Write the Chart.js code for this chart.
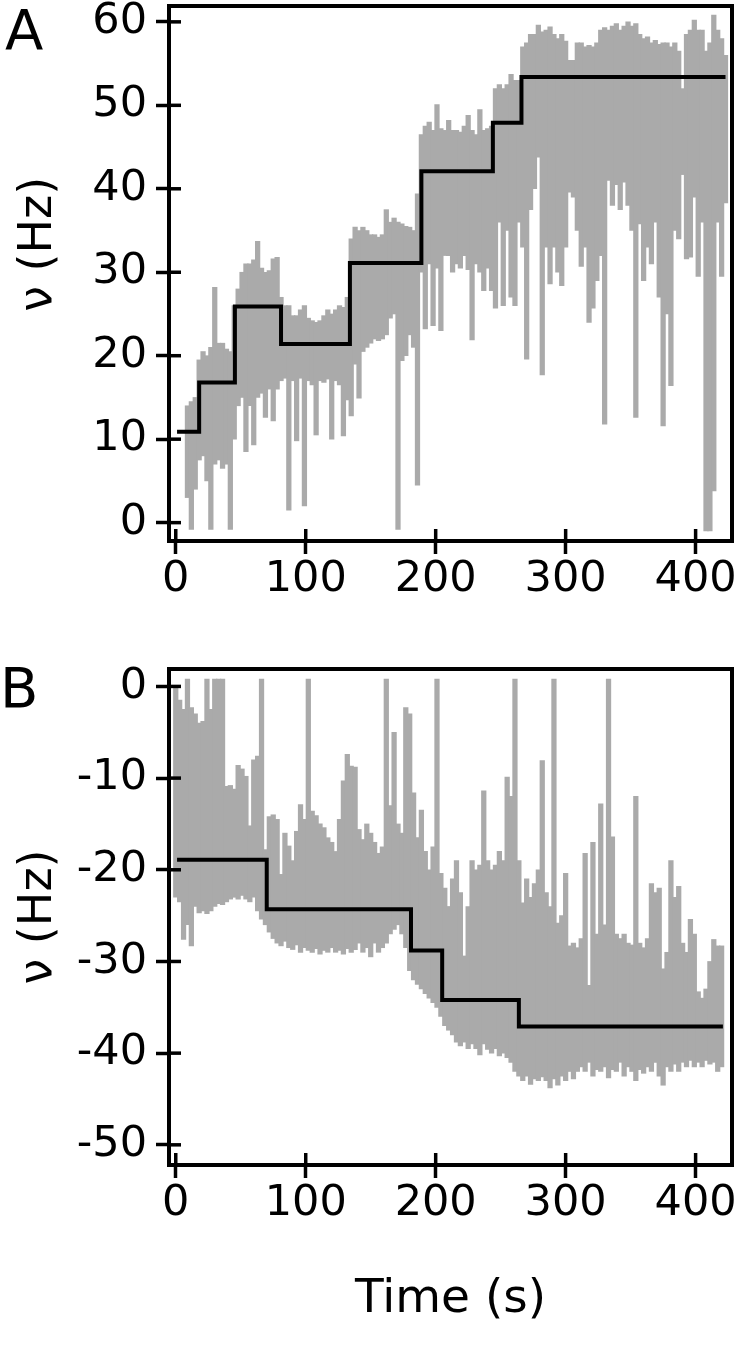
<!DOCTYPE html>
<html><head><meta charset="utf-8">
<script src="https://cdn.jsdelivr.net/npm/chart.js@4.4.1/dist/chart.umd.min.js"></script>
<style>
html,body{margin:0;padding:0;background:#fff;}
#wrap{position:relative;width:739px;height:1364px;overflow:hidden;}
canvas{position:absolute;left:0;}
#ca{top:0;} #cb{top:610px;}
.lab{position:absolute;font-family:'DejaVu Sans',sans-serif;font-size:56px;line-height:1;color:#000;}
</style></head><body>
<div id="wrap">
<canvas id="ca" width="739" height="610"></canvas>
<canvas id="cb" width="739" height="754"></canvas>
<div class="lab" style="left:5px;top:2px;">A</div>
<div class="lab" style="left:0px;top:660px;">B</div>
</div>
<script>
// ---------- Panel A data ----------
const timeA = [
 9,12,15,18,21,24,27,30,33,36,
 39,42,45,48,51,54,57,60,63,66,
 69,72,75,78,81,84,87,90,93,96,
 99,102,105,108,111,114,117,120,123,126,
 129,132,135,138,141,144,147,150,153,156,
 159,162,165,168,171,174,177,180,183,186,
 189,192,195,198,201,204,207,210,213,216,
 219,222,225,228,231,234,237,240,243,246,
 249,252,255,258,261,264,267,270,273,276,
 279,282,285,288,291,294,297,300,303,306,
 309,312,315,318,321,324,327,330,333,336,
 339,342,345,348,351,354,357,360,363,366,
 369,372,375,378,381,384,387,390,393,396,
 399,402,405,408,411,414,417,420,423];
const hiA = [
 14.0,14.5,15.0,19.5,20.5,20.0,21.0,28.2,21.5,21.5,
 20.8,20.5,26.0,28.0,30.0,31.0,31.0,31.5,33.7,30.5,
 30.0,30.2,31.6,31.8,27.0,26.0,26.0,24.8,24.8,25.5,
 26.0,24.5,24.2,24.0,24.2,24.8,25.5,25.0,25.5,26.0,
 25.8,27.0,34.0,35.4,35.0,35.4,35.0,34.5,34.5,34.2,
 34.5,37.5,36.0,36.5,36.0,35.8,35.5,35.4,35.0,39.4,
 46.5,47.5,48.0,47.0,50.1,47.2,47.0,48.2,47.0,47.0,
 46.8,47.5,48.8,47.0,46.5,49.5,47.0,47.2,47.5,52.0,
 52.5,52.0,52.5,53.7,53.0,53.0,57.0,57.5,58.5,58.5,
 59.6,58.8,59.0,59.4,58.5,58.0,58.5,57.7,55.4,55.4,
 57.5,57.5,57.0,57.2,57.0,57.5,59.0,59.3,59.0,59.5,
 59.8,59.0,59.5,60.0,59.5,59.8,58.5,58.0,58.2,57.5,
 57.8,57.3,57.5,57.5,57.0,57.5,56.5,52.0,58.5,59.0,
 60.2,59.0,59.0,56.5,57.5,60.8,59.0,58.0,56.0];
const loA = [
 3.0,-0.8,4.0,7.5,8.0,5.0,-0.8,7.0,7.5,6.5,
 7.0,-0.8,10.0,14.0,15.0,8.5,14.0,9.3,15.0,15.5,
 12.6,16.0,12.2,16.0,17.0,17.3,1.5,17.0,9.8,17.3,
 2.0,17.0,16.5,10.5,17.0,16.8,17.2,10.0,17.0,16.5,
 10.4,14.7,12.8,19.0,14.9,20.5,21.0,21.5,22.0,21.8,
 22.0,22.5,24.5,25.0,-0.8,19.4,20.0,22.5,21.0,4.5,
 30.0,23.2,31.0,23.6,30.5,23.0,32.0,32.0,30.0,31.0,
 30.5,32.0,30.3,21.9,31.0,30.0,27.8,30.5,27.8,25.7,
 36.0,26.0,35.0,27.0,26.0,36.0,33.0,19.6,37.5,40.0,
 43.8,17.7,33.0,28.6,33.0,30.0,28.4,33.0,39.6,39.0,
 35.0,30.7,33.0,24.0,25.7,29.0,32.0,11.8,41.0,38.0,
 40.5,37.5,40.8,38.0,35.0,12.6,35.8,29.0,33.0,31.0,
 36.0,27.0,11.6,25.0,16.4,35.0,34.0,41.7,31.6,31.8,
 39.0,29.5,36.0,-1.0,-1.0,3.8,36.0,29.5,38.3];
const stepTimeA = [1, 18, 45.5, 81, 134, 189, 244, 266, 423];
const stepValA  = [10.9, 16.8, 25.9, 21.4, 31.1, 42.1, 47.9, 53.4, 53.4];
const yTicksA = [0, 10, 20, 30, 40, 50, 60];

// ---------- Panel B data ----------
const timeB = [
 0,3,6,9,12,15,18,21,24,27,
 30,33,36,39,42,45,48,51,54,57,
 60,63,66,69,72,75,78,81,84,87,
 90,93,96,99,102,105,108,111,114,117,
 120,123,126,129,132,135,138,141,144,147,
 150,153,156,159,162,165,168,171,174,177,
 180,183,186,189,192,195,198,201,204,207,
 210,213,216,219,222,225,228,231,234,237,
 240,243,246,249,252,255,258,261,264,267,
 270,273,276,279,282,285,288,291,294,297,
 300,303,306,309,312,315,318,321,324,327,
 330,333,336,339,342,345,348,351,354,357,
 360,363,366,369,372,375,378,381,384,387,
 390,393,396,399,402,405,408,411,414,417,
 420];
const hiB = [
 -0.2,-1.5,-2.5,0.8,-2.3,-3.0,-4.0,-3.8,0.8,-2.5,
 0.8,0.8,0.8,-10.9,-10.8,-11.2,-8.6,-9.0,-9.8,-15.2,
 -8.0,-7.6,0.8,-17.8,-14.2,-14.0,-14.5,-20.5,-16.0,-17.4,
 -19.0,-15.8,-12.9,-14.5,0.8,-13.6,-14.1,-15.0,-15.4,-16.5,
 -17.0,-18.0,-14.5,-10.3,-7.4,-8.7,-8.8,-15.6,-16.7,-15.0,
 -16.0,-17.0,-18.2,-17.5,0.8,-13.0,-5.0,-15.0,-16.0,-2.3,
 -3.0,-11.6,-16.5,-13.5,-18.0,-20.0,-17.5,0.8,-20.4,-22.0,
 -24.0,-21.0,-19.0,-22.5,-29.4,-24.0,-19.0,-20.0,-19.5,-11.4,
 -19.0,-20.0,-19.5,-18.0,-19.0,-9.9,-12.0,0.8,-19.0,-23.6,
 -21.0,-23.0,-21.5,-20.0,-8.1,-22.5,-24.0,0.8,-25.8,-25.0,
 -20.4,-28.3,-28.0,-28.5,-27.5,-18.2,-32.6,-17.0,-27.0,-12.8,
 -26.0,0.8,-16.4,-27.0,-27.5,-27.0,-28.0,-28.2,-12.0,-28.0,
 -28.5,-27.5,-21.5,-22.5,-22.0,-30.8,-29.0,-19.0,-23.0,-21.8,
 -28.0,-29.0,-25.4,-27.0,-33.3,-34.0,-33.0,-30.0,-27.6,-28.3,
 -28.3];
const loB = [
 -23.0,-23.5,-27.6,-26.0,-28.3,-24.0,-24.7,-24.5,-24.8,-24.5,
 -24.0,-23.7,-23.8,-23.5,-23.2,-23.0,-23.2,-22.8,-23.2,-23.5,
 -23.0,-24.5,-25.4,-26.0,-26.8,-27.5,-28.0,-28.3,-27.8,-28.5,
 -28.7,-28.2,-29.0,-28.5,-28.8,-29.0,-28.6,-29.2,-28.8,-29.0,
 -28.5,-29.0,-28.8,-29.2,-28.6,-29.0,-28.7,-28.0,-29.0,-28.5,
 -29.5,-28.0,-29.0,-28.5,-28.0,-27.0,-26.5,-26.0,-27.0,-28.5,
 -31.0,-32.0,-32.5,-33.0,-33.5,-34.0,-34.5,-35.0,-36.0,-37.0,
 -37.5,-38.0,-38.8,-39.2,-38.8,-39.5,-39.0,-39.5,-40.2,-39.0,
 -39.6,-40.0,-39.5,-40.3,-40.0,-40.5,-41.0,-42.0,-42.5,-43.0,
 -42.5,-43.4,-42.8,-43.0,-42.6,-43.0,-43.8,-42.8,-43.5,-42.5,
 -43.0,-42.0,-42.8,-42.0,-41.5,-42.0,-41.0,-42.5,-41.8,-42.0,
 -41.5,-42.7,-41.8,-42.0,-41.0,-42.5,-41.5,-42.0,-43.0,-41.8,
 -42.2,-41.5,-42.0,-41.0,-42.5,-43.5,-41.5,-42.0,-41.2,-42.0,
 -41.0,-41.5,-40.8,-41.5,-41.0,-41.5,-40.8,-41.2,-41.0,-42.0,
 -41.5];
const stepTimeB = [1, 70, 181, 205, 264, 421];
const stepValB  = [-18.9, -24.3, -28.8, -34.2, -37.1, -37.1];
const yTicksB = [0, -10, -20, -30, -40, -50];

const xTicks = [0, 100, 200, 300, 400];
const yTitleA = '\u00a0\u00a0\u00a0\u00a0ν (Hz)';
const yTitleB = 'ν (Hz)';
const xTitle = 'Time (s)';

// ---------- drawing ----------
Chart.defaults.font.family = "'DejaVu Sans', sans-serif";
Chart.defaults.color = '#000';

const frame = {
  id: 'frame',
  afterDraw(chart) {
    const {ctx, chartArea: a, scales: {x, y}} = chart;
    ctx.save();
    ctx.strokeStyle = '#000';
    ctx.lineWidth = 4;
    ctx.lineCap = 'square';
    ctx.beginPath();
    ctx.moveTo(a.left, a.top); ctx.lineTo(a.right, a.top); ctx.lineTo(a.right, a.bottom);
    ctx.stroke();
    ctx.lineCap = 'butt';
    ctx.lineWidth = 3.5;
    x.ticks.forEach(t => { const p = x.getPixelForValue(t.value); ctx.beginPath(); ctx.moveTo(p, a.bottom); ctx.lineTo(p, a.bottom - 12); ctx.stroke(); });
    y.ticks.forEach(t => { const p = y.getPixelForValue(t.value); ctx.beginPath(); ctx.moveTo(a.left, p); ctx.lineTo(a.left + 12, p); ctx.stroke(); });
    ctx.restore();
  }
};

function build(id, times, lo, hi, sT, sV, yTicks, yMin, yMax, yTitle, padTop, xAxisH, showXTitle) {
  const gray = times.map((t, i) => ({x: t, y: [lo[i], hi[i]]}));
  const steps = sT.map((t, i) => ({x: t, y: sV[i]}));
  return new Chart(document.getElementById(id), {
    type: 'bar',
    data: {
      datasets: [
        {type: 'line', data: steps, stepped: true, borderColor: '#000', borderWidth: 4,
         pointRadius: 0, fill: false, order: 0, borderCapStyle: 'butt', borderJoinStyle: 'miter'},
        {type: 'bar', data: gray, backgroundColor: '#aaaaaa', borderWidth: 0,
         barThickness: 4.6, grouped: false, order: 1}
      ]
    },
    options: {
      responsive: false, animation: false,
      layout: {padding: {left: 0, right: 7, top: padTop, bottom: 0}},
      plugins: {legend: {display: false}, tooltip: {enabled: false}},
      scales: {
        x: {
          type: 'linear', min: -5.2, max: 428, offset: false,
          afterBuildTicks: s => { s.ticks = xTicks.map(v => ({value: v})); },
          afterFit: s => { s.height = xAxisH; s.paddingLeft = 0; s.paddingRight = 0; },
          grid: {display: true, drawOnChartArea: false, drawTicks: true, tickLength: 13,
                 tickWidth: 3.5, tickColor: '#000', offset: false},
          border: {display: true, width: 4, color: '#000'},
          ticks: {font: {size: 43}, padding: 0, maxRotation: 0, autoSkip: false},
          title: {display: showXTitle, text: xTitle, font: {size: 47}, padding: {top: 0, bottom: 36}}
        },
        y: {
          type: 'linear', min: yMin, max: yMax,
          afterBuildTicks: s => { s.ticks = yTicks.map(v => ({value: v})); },
          afterFit: s => { s.width = 169; s.paddingTop = 0; s.paddingBottom = 0; },
          grid: {display: true, drawOnChartArea: false, drawTicks: true, tickLength: 13,
                 tickWidth: 3.5, tickColor: '#000'},
          border: {display: true, width: 4, color: '#000'},
          ticks: {font: {size: 43}, padding: 9, autoSkip: false},
          title: {display: true, text: yTitle, font: {size: 46}, padding: {top: 11, bottom: 0}}
        }
      }
    },
    plugins: [frame]
  });
}

build('ca', timeA, loA, hiA, stepTimeA, stepValA, yTicksA, -2.2, 61.9, yTitleA, 6, 69, false);
build('cb', timeB, loB, hiB, stepTimeB, stepValB, yTicksB, -52.2, 1.9, yTitleB, 59, 199, true);
</script>
</body></html>
